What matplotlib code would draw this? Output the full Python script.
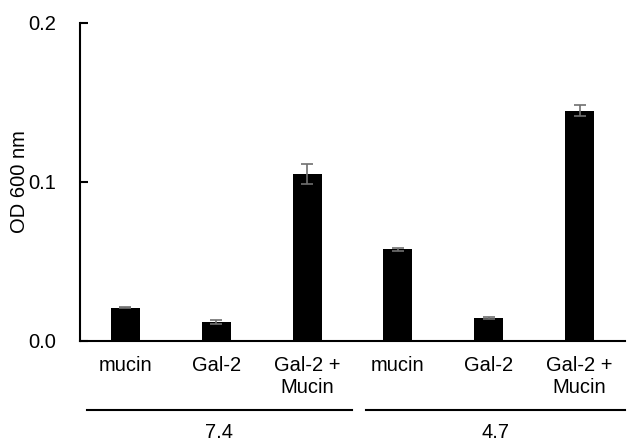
import matplotlib.pyplot as plt
import matplotlib.transforms as mtransforms

plt.rcParams['font.family'] = ['Liberation Sans', 'DejaVu Sans']

# data
labels = ['mucin', 'Gal-2', 'Gal-2 +\nMucin', 'mucin', 'Gal-2', 'Gal-2 +\nMucin']
values = [0.021, 0.0118, 0.1048, 0.0575, 0.0145, 0.1447]
errors = [0.0006, 0.0013, 0.0062, 0.0008, 0.0006, 0.0035]
groups = ['7.4', '4.7']

fig = plt.figure(figsize=(6.3, 4.41), dpi=100)
ax = fig.add_axes([0.127, 0.227, 0.865, 0.721])

x = list(range(len(values)))
ax.bar(x, values, width=0.32, color='black')
ax.errorbar(x, values, yerr=errors, fmt='none', ecolor='#707070',
            elinewidth=1.2, capsize=4, capthick=1.2)

ax.set_xlim(-0.5, 5.5)
ax.set_ylim(0, 0.2)
ax.set_yticks([0.0, 0.1, 0.2])
ax.set_yticklabels(['0.0', '0.1', '0.2'])
ax.set_xticks(x)
ax.set_xticklabels(labels, linespacing=1.2)
ax.tick_params(axis='x', length=0, pad=11, labelsize=14.5)
ax.tick_params(axis='y', direction='in', length=6, width=1.5, pad=17, labelsize=14.5)
ax.set_ylabel('OD 600 nm', fontsize=14.5, labelpad=0)

for s in ['top', 'right']:
    ax.spines[s].set_visible(False)
for s in ['left', 'bottom']:
    ax.spines[s].set_linewidth(1.5)

# group brackets below the category labels
trans = mtransforms.blended_transform_factory(ax.transData, ax.transAxes)
spans = [(-0.42, 2.49), (2.65, 5.5)]
for (x0, x1), g in zip(spans, groups):
    ax.plot([x0, x1], [-0.218, -0.218], color='black', lw=1.5,
            transform=trans, clip_on=False)
    ax.text((x0 + x1) / 2, -0.287, g, transform=trans, ha='center',
            va='center', fontsize=14.5)

fig.savefig('out.png', dpi=100)
